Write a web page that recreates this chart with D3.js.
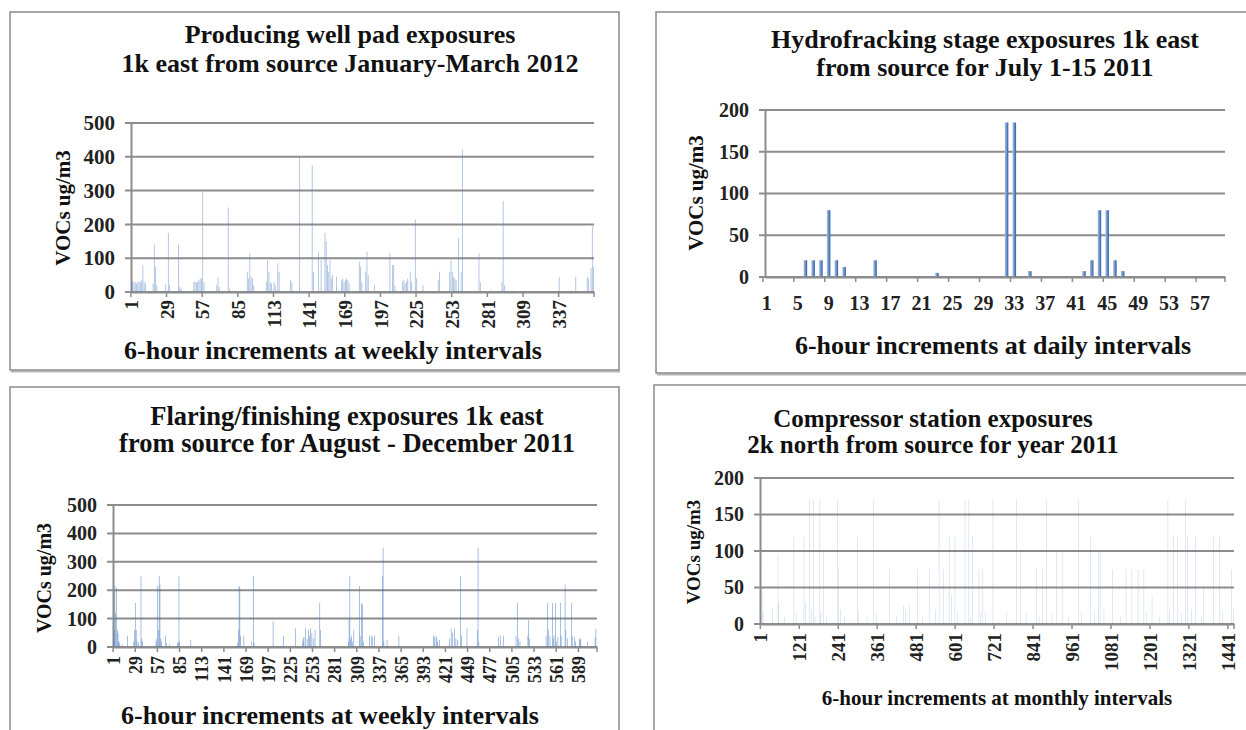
<!DOCTYPE html>
<html>
<head>
<meta charset="utf-8">
<script src="https://cdn.jsdelivr.net/npm/d3@7/dist/d3.min.js"></script>
<style>
  body { margin: 0; background: #fff; }
  svg { display: block; font-family: "Liberation Serif", "Times New Roman", serif; font-weight: bold; }
  svg text { font-family: "Liberation Serif", "Times New Roman", serif; font-weight: bold; }
</style>
</head>
<body>
<div id="chart"></div>
<script>
// ---- panel 1: producing well pad, 364 six-hour steps ----
var wellPadCount = 364;
var wellPadTicks = [1, 29, 57, 85, 113, 141, 169, 197, 225, 253, 281, 309, 337];
var wellPadYTicks = [0, 100, 200, 300, 400, 500];
var wellPadSpikes = [
  [1,30],[2,32],[3,28],[4,30],[5,25],[6,30],[7,32],[8,28],[9,35],[10,80],[11,30],[12,25],
  [18,25],[19,140],[20,75],[21,20],[28,25],[30,175],[31,20],[38,140],[39,15],[40,10],
  [50,30],[51,30],[52,28],[53,30],[54,35],[55,40],[56,40],[57,295],[58,30],
  [68,20],[69,45],[70,15],[77,250],[78,10],
  [92,60],[93,40],[94,115],[95,45],[96,40],[97,20],
  [107,30],[108,95],[109,60],[110,30],[111,25],[113,30],[114,20],[116,85],[117,60],
  [126,35],[127,30],[133,400],[143,375],[144,60],[148,120],[150,95],
  [153,175],[154,150],[155,80],[156,60],[157,95],[158,40],[159,50],
  [162,45],[166,35],[167,40],[168,30],[169,35],[170,40],[171,35],[172,25],
  [180,90],[181,75],[182,30],[185,60],[186,120],[187,50],[192,20],
  [204,115],[206,80],[207,80],[208,20],
  [214,30],[215,35],[216,25],[217,30],[218,40],[220,60],[221,30],[224,215],[225,40],[230,20],
  [242,35],[243,60],[251,60],[252,95],[253,60],[254,45],[255,40],[256,35],[258,160],[260,60],[261,420],
  [274,115],[275,30],[283,5],[292,30],[293,270],[294,20],[300,5],
  [337,45],[350,45],[359,45],[360,40],[362,70],[363,195],[364,75]
];

// ---- panel 2: hydrofracking, 60 six-hour steps ----
var fracTicks = [1, 5, 9, 13, 17, 21, 25, 29, 33, 37, 41, 45, 49, 53, 57];
var fracYTicks = [0, 50, 100, 150, 200];
var fracValues = [
  0, 0, 0, 0, 0,   20, 20, 20, 80, 20,
  12, 0, 0, 0, 20,  0, 0, 0, 1, 0,
  0, 0, 5, 0, 0,   0, 0, 0, 0, 0,
  0, 185, 185, 0, 7,  0, 0, 0, 0, 0,
  0, 7, 20, 80, 80,  20, 7, 0, 0, 0,
  0, 0, 0, 0, 0,   0, 0, 0, 0, 0
];

// ---- panel 3: flaring/finishing, 612 six-hour steps ----
var flareCount = 612;
var flareTicks = [1, 29, 57, 85, 113, 141, 169, 197, 225, 253, 281, 309, 337, 365, 393, 421, 449, 477, 505, 533, 561, 589];
var flareYTicks = [0, 100, 200, 300, 400, 500];
var flareSpikes = [
  [1,20],[2,60],[3,215],[4,120],[5,210],[6,60],[7,50],[8,20],[9,15],[12,10],[19,40],
  [27,20],[28,60],[29,155],[30,60],[31,20],[33,15],[36,250],[37,30],[38,20],
  [55,20],[56,30],[57,215],[58,60],[59,250],[60,220],[61,30],[62,20],[67,40],[68,15],[72,10],
  [82,15],[83,15],[84,250],[85,20],[99,25],[140,3],
  [158,15],[159,60],[160,215],[161,210],[162,40],[166,40],[176,20],[178,250],[179,15],
  [203,90],[216,40],[231,65],
  [240,20],[241,30],[242,35],[244,65],[246,30],[248,60],[249,40],[250,65],[252,50],[254,30],[256,60],[262,155],[263,60],
  [298,20],[299,100],[300,250],[301,30],[302,40],[303,20],[305,60],
  [312,215],[313,40],[315,155],[316,150],[317,20],[325,40],[327,40],[329,35],[331,40],
  [341,250],[342,350],[343,20],[347,25],[362,40],
  [406,40],[407,35],[409,40],[410,30],[411,20],[413,25],
  [426,30],[428,65],[430,50],[432,65],[434,30],[436,25],[440,250],[441,40],[448,65],
  [461,60],[462,350],[463,20],[488,35],[490,40],[494,40],
  [510,40],[512,155],[513,30],[515,20],[525,40],[526,95],[527,30],
  [548,40],[550,155],[551,60],[553,40],[556,155],[557,30],[558,40],[560,155],[561,20],[563,35],[566,155],[567,40],
  [572,220],[573,60],[575,30],[580,155],[581,40],[584,35],[585,20],[590,30],[591,25],[592,30],[600,20],[610,35],[611,65]
];

// ---- panel 4: compressor station, 1460 six-hour steps ----
var compCount = 1460;
var compTicks = [1, 121, 241, 361, 481, 601, 721, 841, 961, 1081, 1201, 1321, 1441];
var compYTicks = [0, 50, 100, 150, 200];
var compSpikes = [
  [3,75],[7,50],[10,15],[40,20],[56,95],[58,30],[75,10],[105,120],[112,15],[136,120],[140,30],
  [154,170],[158,20],[166,170],[170,10],[185,170],[188,15],[197,100],[205,10],[240,170],[243,75],
  [248,20],[260,10],[301,120],[305,15],[330,10],[350,170],[360,15],[399,75],[420,10],[442,25],
  [450,20],[460,25],[485,75],[500,10],[522,75],[540,20],[552,170],[565,75],[583,120],[590,40],
  [601,120],[610,15],[632,170],[644,170],[650,10],[656,120],[675,75],[681,15],[687,75],[695,15],
  [718,170],[736,5],[760,15],[791,170],[804,100],[820,15],[853,75],[860,10],[871,75],[883,170],
  [900,15],[914,100],[932,100],[950,10],[981,170],[990,15],[1018,120],[1030,15],[1043,100],[1048,100],
  [1060,20],[1086,75],[1110,10],[1128,75],[1146,75],[1165,75],[1183,75],[1190,15],[1208,40],[1230,10],
  [1257,170],[1262,20],[1275,120],[1287,120],[1300,15],[1312,170],[1318,120],[1330,20],[1343,120],
  [1360,10],[1367,50],[1398,120],[1416,120],[1425,15],[1453,75],[1458,20]
];

// spike lists -> full series (zeros where nothing was measured above zero)
function fromSpikes(count, spikes) {
  var arr = new Array(count).fill(0);
  spikes.forEach(function(s) { arr[s[0] - 1] = s[1]; });
  return arr;
}

var svg = d3.select("#chart").append("svg")
    .attr("width", 1246)
    .attr("height", 730);

var defs = svg.append("defs");
var grad = defs.append("linearGradient").attr("id", "barGrad")
    .attr("x1", "0%").attr("x2", "100%").attr("y1", "0%").attr("y2", "0%");
grad.append("stop").attr("offset", "0%").attr("stop-color", "#a9c1e4");
grad.append("stop").attr("offset", "100%").attr("stop-color", "#2f5fa6");

var gridColor = "#8c8c8c";
var textColor = "#222";
var serif = "'Liberation Serif', 'Times New Roman', serif";

function drawPanel(p) {
  // frame, with a soft shadow line under the bottom edge
  svg.append("line")
      .attr("x1", p.frame[0] + 1).attr("x2", p.frame[0] + p.frame[2] + 1)
      .attr("y1", p.frame[1] + p.frame[3] + 1.5).attr("y2", p.frame[1] + p.frame[3] + 1.5)
      .attr("stroke", "#b5b5b5")
      .attr("stroke-width", 2);
  svg.append("rect")
      .attr("x", p.frame[0]).attr("y", p.frame[1])
      .attr("width", p.frame[2]).attr("height", p.frame[3])
      .attr("fill", "none")
      .attr("stroke", "#8a8a8a")
      .attr("stroke-width", 1.5);

  // title
  p.title.forEach(function(line, i) {
    svg.append("text")
        .attr("x", p.titleX)
        .attr("y", p.titleY + i * p.titleGap)
        .attr("text-anchor", "middle")
        .attr("font-size", p.titleSize)
        .attr("fill", "#111")
        .text(line);
  });

  var x = d3.scaleBand()
      .domain(d3.range(1, p.values.length + 1))
      .range([p.left, p.right])
      .paddingInner(p.pad);
  var y = d3.scaleLinear()
      .domain([0, p.yMax])
      .range([p.bottom, p.top]);
  var step = x.step();

  // gridlines (extend a little left of the axis like tick marks)
  svg.append("g").selectAll("line")
      .data(p.yTicks)
      .enter().append("line")
      .attr("x1", p.left - 6).attr("x2", p.right)
      .attr("y1", function(d) { return y(d); })
      .attr("y2", function(d) { return y(d); })
      .attr("stroke", gridColor)
      .attr("stroke-width", 2);

  // y axis
  var yAxis = svg.append("g")
      .attr("transform", "translate(" + p.left + ",0)")
      .call(d3.axisLeft(y).tickValues(p.yTicks).tickSize(0).tickPadding(p.yPad));
  yAxis.attr("font-family", serif).attr("font-size", p.yTickSize);
  yAxis.select(".domain").attr("stroke", gridColor).attr("stroke-width", 2);
  yAxis.selectAll("text")
      .style("font-family", serif)
      .style("font-size", p.yTickSize + "px")
      .attr("fill", textColor);

  // bars
  svg.append("g").selectAll("rect")
      .data(p.values.map(function(v, i) { return { i: i + 1, v: v }; })
                    .filter(function(d) { return d.v > 0; }))
      .enter().append("rect")
      .attr("x", function(d) { return x(d.i); })
      .attr("width", x.bandwidth())
      .attr("y", function(d) { return y(d.v); })
      .attr("height", function(d) { return p.bottom - y(d.v); })
      .attr("fill", p.barFill)
      .attr("fill-opacity", p.barOpacity);

  // x axis
  var xAxis = svg.append("g")
      .attr("transform", "translate(0," + p.bottom + ")")
      .call(d3.axisBottom(x).tickValues(p.xTicks).tickSizeInner(5).tickSizeOuter(0).tickPadding(p.xPad));
  xAxis.attr("font-family", serif).attr("font-size", p.xTickSize);
  xAxis.select(".domain").attr("stroke", gridColor).attr("stroke-width", 2);
  xAxis.selectAll(".tick line")
      .attr("stroke", gridColor)
      .attr("stroke-width", 1.5)
      .attr("transform", "translate(" + (-step / 2) + ",0)");
  xAxis.append("line")
      .attr("x1", p.right).attr("x2", p.right)
      .attr("y1", 0).attr("y2", 5)
      .attr("stroke", gridColor).attr("stroke-width", 1.5);
  var xt = xAxis.selectAll(".tick text")
      .style("font-family", serif)
      .style("font-size", p.xTickSize + "px")
      .attr("fill", textColor);
  if (p.rotate) {
    xt.attr("transform", "rotate(-90)")
      .attr("text-anchor", "end")
      .attr("x", -p.xPad)
      .attr("y", 0)
      .attr("dy", "0.35em");
  }

  // axis titles
  svg.append("text")
      .attr("transform", "translate(" + p.yTitleX + "," + p.yTitleY + ") rotate(-90)")
      .attr("text-anchor", "middle")
      .attr("font-size", p.yTitleSize)
      .attr("fill", "#111")
      .text("VOCs ug/m3");
  svg.append("text")
      .attr("x", p.xTitleX)
      .attr("y", p.xTitleY)
      .attr("text-anchor", "middle")
      .attr("font-size", p.xTitleSize)
      .attr("fill", "#111")
      .text(p.xTitle);
}

drawPanel({
  frame: [10, 12, 609, 358],
  title: ["Producing well pad exposures", "1k east from source January-March 2012"],
  titleX: 350, titleY: 43, titleGap: 29, titleSize: 26,
  values: fromSpikes(wellPadCount, wellPadSpikes),
  xTicks: wellPadTicks, yTicks: wellPadYTicks, yMax: 500,
  left: 131, right: 594, top: 123, bottom: 292, pad: 0.35,
  barFill: "#5b86c5", barOpacity: 0.55,
  yPad: 16, yTickSize: 21, xPad: 8, xTickSize: 19, rotate: true,
  yTitleX: 70, yTitleY: 208, yTitleSize: 21,
  xTitle: "6-hour increments at weekly intervals", xTitleX: 333, xTitleY: 359, xTitleSize: 26
});

drawPanel({
  frame: [656, 12, 620, 361],
  title: ["Hydrofracking stage exposures 1k east", "from source for July 1-15 2011"],
  titleX: 985, titleY: 48, titleGap: 28, titleSize: 26,
  values: fracValues,
  xTicks: fracTicks, yTicks: fracYTicks, yMax: 200,
  left: 765, right: 1225, top: 110, bottom: 277, pad: 0.55,
  barFill: "url(#barGrad)", barOpacity: 1,
  yPad: 16, yTickSize: 20, xPad: 14, xTickSize: 20, rotate: false,
  yTitleX: 703, yTitleY: 193, yTitleSize: 21,
  xTitle: "6-hour increments at daily intervals", xTitleX: 993, xTitleY: 354, xTitleSize: 26
});

drawPanel({
  frame: [10, 387, 609, 400],
  title: ["Flaring/finishing exposures 1k east", "from source for August - December 2011"],
  titleX: 347, titleY: 425, titleGap: 27, titleSize: 26.5,
  values: fromSpikes(flareCount, flareSpikes),
  xTicks: flareTicks, yTicks: flareYTicks, yMax: 500,
  left: 113, right: 597, top: 505, bottom: 647, pad: 0.3,
  barFill: "#3f74bd", barOpacity: 0.8,
  yPad: 16, yTickSize: 20, xPad: 9, xTickSize: 18, rotate: true,
  yTitleX: 51, yTitleY: 578, yTitleSize: 20,
  xTitle: "6-hour increments at weekly intervals", xTitleX: 330, xTitleY: 724, xTitleSize: 26
});

drawPanel({
  frame: [654, 385, 620, 400],
  title: ["Compressor station exposures", "2k north from source for year 2011"],
  titleX: 933, titleY: 427, titleGap: 26, titleSize: 25,
  values: fromSpikes(compCount, compSpikes),
  xTicks: compTicks, yTicks: compYTicks, yMax: 200,
  left: 760, right: 1234, top: 478, bottom: 624, pad: 0,
  barFill: "#4f81bd", barOpacity: 0.55,
  yPad: 16, yTickSize: 20, xPad: 9, xTickSize: 19, rotate: true,
  yTitleX: 700, yTitleY: 552, yTitleSize: 19,
  xTitle: "6-hour increments at monthly intervals", xTitleX: 997, xTitleY: 705, xTitleSize: 21
});
</script>
</body>
</html>
